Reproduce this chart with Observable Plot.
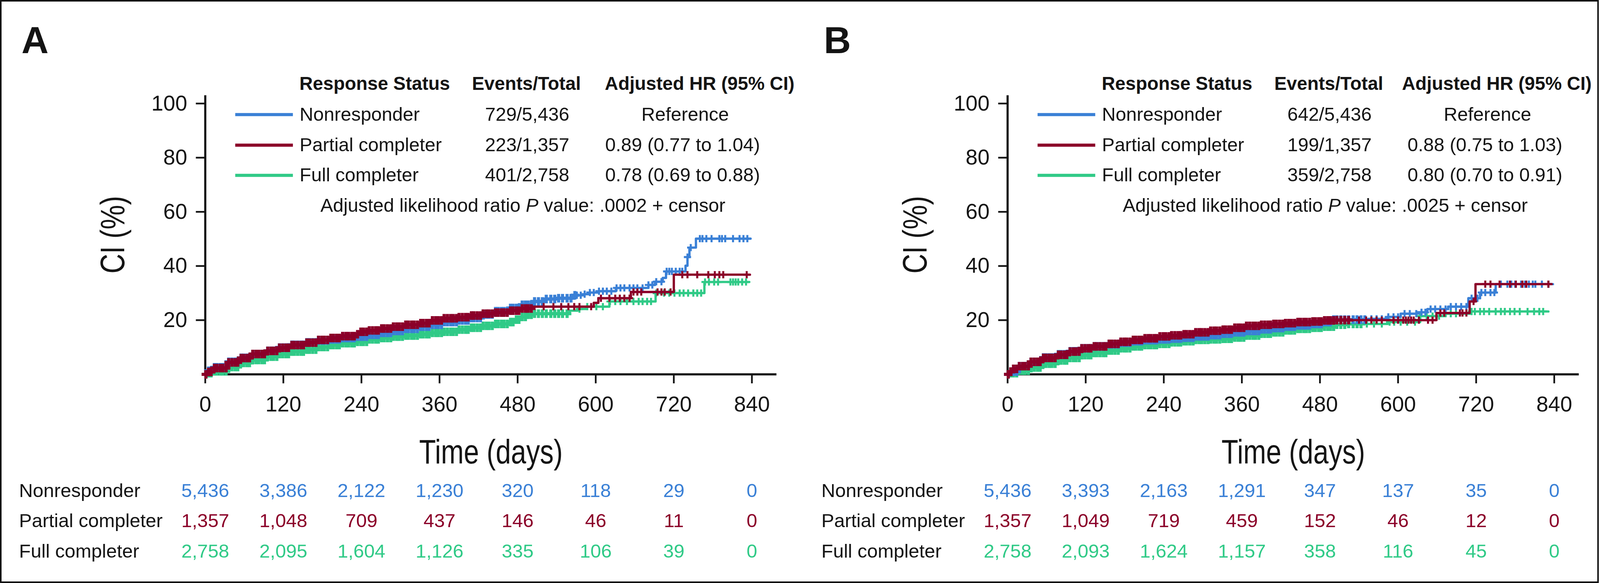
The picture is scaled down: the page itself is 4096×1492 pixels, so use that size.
<!DOCTYPE html>
<html><head><meta charset="utf-8">
<script src="https://cdn.jsdelivr.net/npm/d3@7"></script>
<script src="https://cdn.jsdelivr.net/npm/@observablehq/plot@0.6"></script>
<style>
html,body{margin:0;padding:0;background:#fff;overflow:hidden;}
#page{position:relative;width:4096px;height:1492px;background:#fff;}
#frame{position:absolute;left:0;top:0;width:4093px;height:1492px;box-sizing:border-box;border:4px solid #141414;pointer-events:none;}
.panel{position:absolute;top:0;}
</style></head><body>
<div id="page"><div id="panelA" class="panel" style="left:0px"></div><div id="panelB" class="panel" style="left:2053.6px"></div><div id="frame"></div></div>
<script>
const K = 0.984;
const FONT = "'Liberation Sans', Arial, Helvetica, sans-serif";
const INK = "#141414";

const groups = ["Nonresponder", "Partial completer", "Full completer"];
const groupColors = ["#3a80d6", "#8b0029", "#30ca87"];
const xTicks = [0, 120, 240, 360, 480, 600, 720, 840];
const yTicks = [20, 40, 60, 80, 100];
const legendHeader = ["Response Status", "Events/Total", "Adjusted HR (95% CI)"];
const panelLetters = ["A", "B"];
const xTitle = "Time (days)";
const yTitle = "CI (%)";

const eventsA = ["729/5,436", "223/1,357", "401/2,758"];
const eventsB = ["642/5,436", "199/1,357", "359/2,758"];
const hrA = ["Reference", "0.89 (0.77 to 1.04)", "0.78 (0.69 to 0.88)"];
const hrB = ["Reference", "0.88 (0.75 to 1.03)", "0.80 (0.70 to 0.91)"];
const pValueA = ".0002";
const pValueB = ".0025";

const riskNonA = [5436, 3386, 2122, 1230, 320, 118, 29, 0];
const riskPartA = [1357, 1048, 709, 437, 146, 46, 11, 0];
const riskFullA = [2758, 2095, 1604, 1126, 335, 106, 39, 0];
const riskNonB = [5436, 3393, 2163, 1291, 347, 137, 35, 0];
const riskPartB = [1357, 1049, 719, 459, 152, 46, 12, 0];
const riskFullB = [2758, 2093, 1624, 1157, 358, 116, 45, 0];

// cumulative incidence steps: [day, CI %]
const stepsNonA = [[0,0],[3,1.3],[14,2.6],[34,4.6],[54,6.1],[73,7.5],[93,8.7],[112,9.9],[132,10.9],[152,11.8],[171,12.5],[191,12.9],[210,13.4],[230,13.9],[250,14.6],[269,15.3],[289,16.0],[308,16.8],[328,17.6],[347,18.3],[367,19.3],[387,19.9],[406,20.8],[426,22.1],[445,23.3],[465,24.5],[485,25.7],[504,26.9],[524,27.8],[543,28.1],[563,29.2],[582,29.6],[591,30.2],[605,30.7],[631,31.9],[681,33.0],[691,34.2],[703,35.6],[708,38.0],[738,40.1],[741,43.3],[744,46.8],[754,50.1],[838,50.1]];
const stepsPartA = [[0,0],[3,0.85],[14,2.3],[34,4.4],[54,6.0],[73,7.5],[93,8.65],[112,9.8],[132,10.8],[152,11.7],[171,12.7],[191,13.4],[210,14.1],[230,14.8],[236,15.7],[250,16.2],[269,16.9],[289,17.6],[308,18.3],[328,18.9],[347,19.9],[367,20.7],[387,21.1],[406,21.7],[426,22.4],[445,22.8],[465,23.5],[485,24.3],[504,25.0],[597,26.4],[604,28.1],[654,30.4],[720,36.8],[837,36.8]];
const stepsFullA = [[0,0],[3,0.4],[14,1.1],[34,2.7],[54,4.2],[73,5.3],[93,6.5],[112,7.5],[132,8.4],[152,9.1],[171,10.1],[191,10.8],[210,11.5],[230,12.0],[250,12.9],[269,13.4],[289,13.9],[308,14.3],[328,14.8],[347,15.3],[367,15.7],[387,16.5],[406,17.2],[426,17.9],[445,18.6],[465,19.3],[475,20.2],[485,21.2],[495,22.0],[504,22.4],[560,23.5],[572,24.1],[585,25.0],[621,26.9],[692,30.0],[767,34.1],[836,34.1]];

const stepsNonB = [[0,0],[3,1.0],[15,3.0],[34,4.6],[54,6.2],[74,7.4],[93,8.5],[113,9.6],[132,10.3],[152,11.1],[172,11.7],[191,12.2],[211,12.6],[230,12.9],[250,13.2],[269,13.5],[289,14.0],[309,14.5],[328,15.0],[348,15.5],[367,16.0],[387,16.6],[407,17.1],[426,17.6],[446,18.1],[465,18.6],[485,19.3],[500,20.2],[555,20.5],[584,21.2],[604,22.4],[629,22.9],[645,24.1],[677,25.0],[708,28.1],[726,30.2],[750,33.3],[838,33.3]];
const stepsPartB = [[0,0],[3,0.9],[7,2.0],[15,3.0],[34,4.6],[54,6.05],[74,7.2],[93,8.4],[113,9.6],[132,10.3],[152,11.25],[172,12.0],[191,12.7],[211,13.3],[230,14.0],[250,14.4],[269,14.8],[289,15.5],[309,16.1],[328,16.5],[348,17.2],[367,17.9],[387,18.3],[407,18.6],[426,18.9],[446,19.3],[465,19.5],[485,19.9],[504,20.0],[659,22.65],[710,26.9],[719,33.3],[836,33.3]];
const stepsFullB = [[0,0],[3,0.4],[15,1.3],[34,2.5],[54,3.9],[74,5.1],[93,6.05],[113,7.1],[132,7.9],[152,8.8],[172,9.6],[191,10.3],[211,10.8],[230,11.25],[250,11.8],[269,12.2],[289,12.7],[309,12.9],[328,13.1],[348,13.6],[367,14.3],[387,15.0],[407,15.5],[426,16.2],[446,16.8],[465,17.2],[485,17.6],[504,18.3],[524,18.6],[584,19.3],[634,21.5],[673,22.4],[712,23.2],[831,23.2]];

// censor marks (days) — dense early band, then individual marks
const denseCensorDays = [1,5,9,14,18,23,27,32,36,41,46,50,55,59,64,68,73,78,82,87,91,96,101,105,110,114,119,124,128,133,137,142,147,151,156,160,165,170,174,179,183,188,193,197,202,206,211,216,220,225,229,234,239,243,248,252,257,262,266,271,275,280,285,289,294,298,303,308,312,317,321,326,331,335,340,344,349,354,358,363,367,372,377,381,386,390,395,400,404,409,413,418,423,427,432,436,441,446,450,455,459,464,469,473,478,482,487,492,496,501,506,512,518,524,531,537,543,549,556,562,568];
const denseEndA = [570, 505, 560];
const denseEndB = [555, 530, 545];
const censorNonA = [571,577,583,591,597,605,611,617,624,632,638,644,652,658,664,672,681,687,693,701,709,713,717,723,729,733,741,746,760,764,770,778,790,794,799,811,821,827,833];
const censorPartA = [520,535,547,558,567,575,593,608,621,630,637,644,652,658,664,670,695,701,706,715,733,741,756,773,783,790,796,832];
const censorFullA = [575,587,601,611,622,630,638,648,658,666,672,679,685,693,705,713,721,729,735,742,750,756,762,768,774,782,788,807,811,815,819,825,831];
const censorNonB = [559,567,575,585,593,600,610,618,628,636,642,650,657,665,673,681,689,697,705,713,722,728,734,742,748,758,768,774,780,789,795,801,807,811,821,831];
const censorPartB = [540,551,559,567,575,593,600,608,612,616,620,624,632,646,653,665,671,695,699,705,716,734,742,756,772,781,791,797,831];
const censorFullB = [552,563,575,587,594,604,614,626,634,644,653,663,673,681,689,713,718,726,732,740,750,758,764,772,779,787,799,809,817,823];

function valueAt(steps, t) {
  let v = 0;
  for (const [d, y] of steps) { if (d <= t) v = y; else break; }
  return v;
}
const fmt = d3.format(",");

function drawPanel(el, cfg) {
  const W = 2040, H = 1492;
  const mL = 533.5 * K, mT = 247.6 * K, mB = H - 973 * K, mR = W - 2020 * K;
  const fx = v => v * K;
  const T = (s, o) => Plot.text([s], {text: d => d, fontFamily: FONT, fill: INK, fontSize: 48.5, lineAnchor: "bottom", ...o});
  const pText = `Adjusted likelihood ratio P value: ${cfg.p} + censor`;

  const order = [2, 0, 1];
  const curveMarks = order.flatMap(i => {
    const steps = cfg.steps[i];
    const pts = steps.map(([t, v]) => ({t, v}));
    const dense = denseCensorDays.filter(d => d <= cfg.denseEnd[i]).map(t => ({t, v: valueAt(steps, t)}));
    const late = cfg.lateCensor[i].map(t => ({t, v: valueAt(steps, t)}));
    return [
      Plot.line(pts, {x: "t", y: "v", stroke: groupColors[i], strokeWidth: 5.9, curve: "step-after"}),
      Plot.dot(dense, {x: "t", y: "v", symbol: "plus", r: 7.1, stroke: groupColors[i], strokeWidth: 8}),
      Plot.dot(late, {x: "t", y: "v", symbol: "plus", r: 6.0, stroke: groupColors[i], strokeWidth: 5.2})
    ];
  });

  const rowDy = [65.9, 145.4, 223.4];
  const riskDy = [318.7, 397.7, 476.3];
  const textMarks = [
    T(cfg.letter, {frameAnchor: "top-left", dx: fx(-478), dy: fx(-109.6), textAnchor: "start", fontWeight: "bold", fontSize: 96}),
    T(yTitle, {frameAnchor: "top-left", dx: fx(-210.5), dy: fx(362.4), rotate: -90, textAnchor: "middle", fontSize: 86.6}),
    T(xTitle, {frameAnchor: "bottom", dy: fx(232), textAnchor: "middle", fontSize: 86.6}),
    T(legendHeader[0], {frameAnchor: "top-left", dx: fx(245), dy: fx(-14), textAnchor: "start", fontWeight: "bold", fontSize: 47.5}),
    T(legendHeader[1], {frameAnchor: "top-left", dx: fx(835.5), dy: fx(-14), textAnchor: "middle", fontWeight: "bold", fontSize: 47.5}),
    T(legendHeader[2], {frameAnchor: "top-left", dx: fx(cfg.hrHeaderDx), dy: fx(-14), textAnchor: "start", fontWeight: "bold", fontSize: 47.5}),
    T(pText, {frameAnchor: "top-left", dx: fx(299.5), dy: fx(303.1), textAnchor: "start"})
  ];
  groups.forEach((g, i) => {
    textMarks.push(T(g, {frameAnchor: "top-left", dx: fx(245.5), dy: fx(rowDy[i]), textAnchor: "start"}));
    textMarks.push(T(cfg.events[i], {frameAnchor: "top-left", dx: fx(837.5), dy: fx(rowDy[i]), textAnchor: "middle"}));
    const isRef = cfg.hr[i] === "Reference";
    textMarks.push(T(cfg.hr[i], {frameAnchor: "top-left", dx: fx(isRef ? 1248.5 : 1040.5), dy: fx(rowDy[i]), textAnchor: isRef ? "middle" : "start"}));
    textMarks.push(T(g, {frameAnchor: "bottom-left", dx: fx(-484.5), dy: fx(riskDy[i]), textAnchor: "start", fontSize: 49}));
    textMarks.push(Plot.text(xTicks, {x: d => d, text: (d, j) => fmt(cfg.risk[i][j]), frameAnchor: "bottom", dy: fx(riskDy[i]), fill: groupColors[i], fontSize: 49, fontFamily: FONT, lineAnchor: "bottom", textAnchor: "middle"}));
  });

  const chart = Plot.plot({
    width: W, height: H,
    marginLeft: mL, marginRight: mR, marginTop: mT, marginBottom: mB,
    style: {fontFamily: FONT, background: "transparent", overflow: "visible", color: INK},
    x: {domain: [0, 878], label: null},
    y: {domain: [0, 103], label: null},
    marks: [
      Plot.axisX(xTicks, {tickSize: 23.6, tickPadding: 32.9, fontSize: 55, strokeWidth: 4.4, stroke: INK, fill: INK, fontFamily: FONT, label: null, tickFormat: d => String(d)}),
      Plot.axisY(yTicks, {tickSize: 23.6, tickPadding: 22.6, fontSize: 55, strokeWidth: 4.4, stroke: INK, fill: INK, fontFamily: FONT, label: null, tickFormat: d => String(d)}),
      Plot.ruleX([0], {stroke: INK, strokeWidth: 5.5}),
      Plot.ruleY([0], {stroke: INK, strokeWidth: 5.5}),
      ...curveMarks,
      ...textMarks
    ]
  });

  const ns = "http://www.w3.org/2000/svg";
  chart.querySelectorAll("text").forEach(t => {
    const s = t.textContent;
    if (s === xTitle || s === yTitle) {
      const tr = t.getAttribute("transform") || "";
      t.setAttribute("transform", tr + " scale(0.81,1)");
    } else if (s === pText) {
      t.textContent = "";
      t.appendChild(document.createTextNode("Adjusted likelihood ratio "));
      const ts = document.createElementNS(ns, "tspan");
      ts.setAttribute("font-style", "italic");
      ts.textContent = "P";
      t.appendChild(ts);
      t.appendChild(document.createTextNode(` value: ${cfg.p} + censor`));
    }
  });
  // legend swatches
  const swY = [50.4, 129.9, 208.4];
  const svg = d3.select(chart);
  groups.forEach((g, i) => {
    svg.append("line")
      .attr("x1", mL + fx(78.5)).attr("x2", mL + fx(228.5))
      .attr("y1", mT + fx(swY[i])).attr("y2", mT + fx(swY[i]))
      .attr("stroke", groupColors[i]).attr("stroke-width", 7.9);
  });
  el.appendChild(chart);
}

drawPanel(document.getElementById("panelA"), {
  letter: panelLetters[0],
  steps: [stepsNonA, stepsPartA, stepsFullA],
  denseEnd: denseEndA,
  lateCensor: [censorNonA, censorPartA, censorFullA],
  risk: [riskNonA, riskPartA, riskFullA],
  events: eventsA, hr: hrA, p: pValueA, hrHeaderDx: 1039.5
});
drawPanel(document.getElementById("panelB"), {
  letter: panelLetters[1],
  steps: [stepsNonB, stepsPartB, stepsFullB],
  denseEnd: denseEndB,
  lateCensor: [censorNonB, censorPartB, censorFullB],
  risk: [riskNonB, riskPartB, riskFullB],
  events: eventsB, hr: hrB, p: pValueB, hrHeaderDx: 1026
});
</script></body></html>
